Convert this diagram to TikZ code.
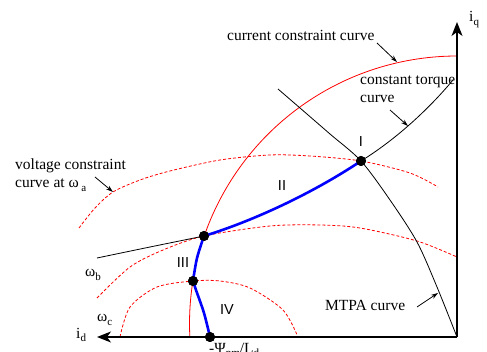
\documentclass[tikz,border=0pt]{standalone}
\usepackage{fontspec}
\setmainfont{Liberation Serif}
\newfontfamily\hvfont{Liberation Sans}
\usetikzlibrary{arrows.meta}
\newcommand\lsub[1]{\raisebox{-0.45ex}{\fontsize{11}{11}\selectfont #1}}
\begin{document}
\begin{tikzpicture}[x=1pt,y=-1pt,
  lbl/.style={font=\fontsize{15.5}{18}\selectfont, inner sep=0pt, anchor=base west},
  roman/.style={font=\hvfont\fontsize{14.5}{16}\selectfont, inner sep=0pt},
  vcurve/.style={red, line width=0.8pt, dash pattern=on 3pt off 2pt},
  ccurve/.style={red, line width=0.8pt},
  bcurve/.style={black, line width=0.8pt},
  axisline/.style={line width=1.3pt, -{Stealth[length=14pt,width=11pt,inset=4pt]}},
  ptr/.style={line width=0.8pt, -{Stealth[length=7pt,width=4.5pt]}},
  pathline/.style={blue, line width=2.6pt, line cap=round, line join=round},
  dot/.style={circle, fill=black, minimum size=10pt, inner sep=0pt},
]
\useasboundingbox (0,0) rectangle (487,352);

% axes
\coordinate (O) at (457,337);
\coordinate (dEnd) at (97,337);
\coordinate (qEnd) at (457,22);

% current constraint circle
\draw[ccurve] plot[domain=177:270, samples=90] ({457+267.5*cos(\x)},{323.5+267.5*sin(\x)});

% voltage constraint curves
\draw[vcurve] plot[smooth] coordinates {(79,228) (95,208) (113,192) (140,180) (170,171) (220,160) (270,155) (310,156) (361,161) (410,173) (438,187)};
\draw[vcurve] plot[smooth] coordinates {(97,298) (130,267) (163,250) (204,236) (270,226) (320,225) (360,228) (417,241) (457,257)};
\draw[vcurve] plot[smooth] coordinates {(120,337) (130,307) (157,287) (193,281) (220,281) (250,288) (283,310) (298,337)};

% dots (positions)
\node[dot] (pD) at (210,337) {};
\node[dot] (pC) at (193,281) {};
\node[dot] (pB) at (204,236) {};
\node[dot] (pA) at (361,161) {};

% constant torque curve
\draw[bcurve] plot[smooth] coordinates {(97,258) (150,247) (pB.center)};
\draw[bcurve] (pB.center) .. controls (250,222) and (310,195) .. (pA.center)
  .. controls (395,140) and (428,110) .. (453,80);
% MTPA curve
\draw[bcurve] plot[smooth] coordinates {(278,89) (300,108) (330,134) (pA.center) (390,200) (417,242) (437,287) (457,337)};

\draw[axisline] (O) -- (dEnd);
\draw[axisline] (O) -- (qEnd);

% operating trajectory
\draw[pathline] plot[smooth] coordinates {(pD.center) (204,313) (196,290) (pC.center)};
\draw[pathline] plot[smooth] coordinates {(pC.center) (197,258) (pB.center)};
\draw[pathline] (pB.center) .. controls (250,222) and (310,195) .. (pA.center);
\node[dot] at (pD) {};
\node[dot] at (pC) {};
\node[dot] at (pB) {};
\node[dot] at (pA) {};

% region labels
\node[roman] (rI) at (361,142) {I};
\node[roman] (rII) at (282,186) {II};
\node[roman] (rIII) at (183,263) {III};
\node[roman] (rIV) at (227,310) {IV};

% text labels
\node[lbl] (cc) at (227,41) {current constraint curve};
\node[lbl] (ct1) at (360,85) {constant torque};
\node[lbl] (ct2) at (360,103) {curve};
\node[lbl] (vc1) at (15,170) {voltage constraint};
\node[lbl] (vc2) at (15,188) {curve at ω\,\lsub{a}};
\node[lbl] (mt) at (325,311) {MTPA curve};
\node[lbl] (wb) at (85,277) {ω\lsub{b}};
\node[lbl] (wc) at (97,322) {ω\lsub{c}};
\node[lbl] (iq) at (469,22) {i\lsub{q}};
\node[lbl] (id) at (76,338) {i\lsub{d}};
\node[lbl] (psi) at (209,353) {-Ψ\lsub{pm}/L\lsub{d}};

% pointer arrows
\coordinate (ccA) at (377,43); \coordinate (ccB) at (397,62);
\coordinate (ctA) at (390,110); \coordinate (ctB) at (408,126);
\coordinate (vcA) at (95,177); \coordinate (vcB) at (113,192);
\coordinate (mtA) at (417,307); \coordinate (mtB) at (438,293);
\draw[ptr] (ccA) -- (ccB);
\draw[ptr] (ctA) -- (ctB);
\draw[ptr] (vcA) -- (vcB);
\draw[ptr] (mtA) -- (mtB);
\end{tikzpicture}
\end{document}
